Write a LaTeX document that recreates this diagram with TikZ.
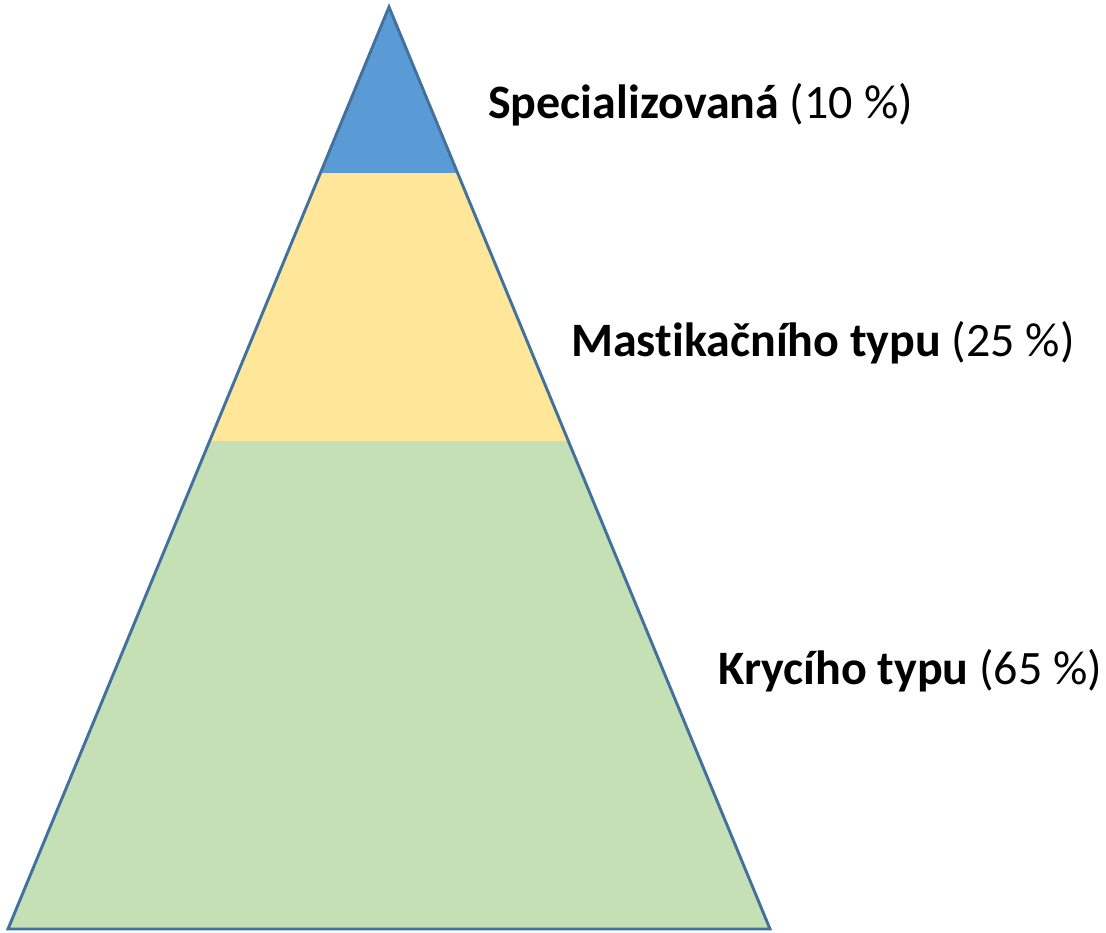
\documentclass[tikz,border=0pt]{standalone}
\usepackage{fontspec}
\setmainfont{Carlito}[Ligatures=NoCommon]
\usetikzlibrary{calc}
\definecolor{topblue}{HTML}{5B9BD5}
\definecolor{midyellow}{HTML}{FFE699}
\definecolor{lowgreen}{HTML}{C5E0B4}
\definecolor{edgeblue}{HTML}{41719C}
\tikzset{
  band/.style={draw=none},
  label/.style={anchor=west, inner sep=0pt, font=\fontsize{36}{43}\selectfont},
}
\begin{document}
\begin{tikzpicture}[x=0.75pt, y=-0.75pt]

\useasboundingbox (0,0) rectangle (1106,932);

\coordinate (apex) at (389,7);
\coordinate (bl) at (8,929);
\coordinate (br) at (770,929);
\coordinate (l1) at ($(apex)!0.18!(bl)$);
\coordinate (r1) at ($(apex)!0.18!(br)$);
\coordinate (l2) at ($(apex)!0.4707!(bl)$);
\coordinate (r2) at ($(apex)!0.4707!(br)$);

% layers
\fill[lowgreen, band] (l2) -- (r2) -- (br) -- (bl) -- cycle;
\fill[midyellow, band] (l1) -- (r1) -- (r2) -- (l2) -- cycle;
\fill[topblue, band] (apex) -- (r1) -- (l1) -- cycle;

\draw[edgeblue, line width=2.2pt, line join=miter] (apex) -- (br) -- (bl) -- cycle;

\node[label] (spec) at (488,105) {\textbf{Specializovaná} (10~\%)};
\node[label] (mast) at (571,343) {\textbf{Mastikačního typu} (25~\%)};
\node[label] (kryc) at (718,671) {\textbf{Krycího typu} (65~\%)};

\end{tikzpicture}
\end{document}
